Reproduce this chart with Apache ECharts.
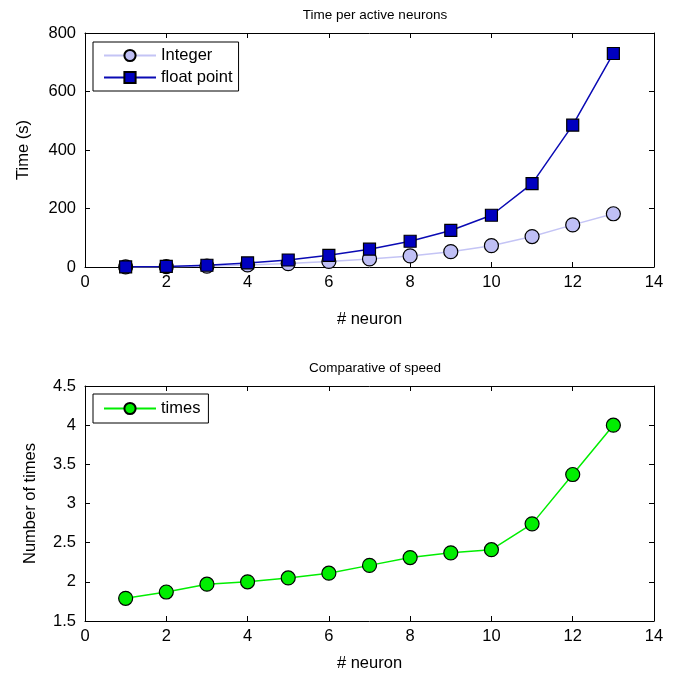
<!DOCTYPE html>
<html><head><meta charset="utf-8">
<script src="https://cdn.jsdelivr.net/npm/echarts@6/dist/echarts.min.js"></script>
<style>html,body{margin:0;padding:0;background:#fff}#c{width:676px;height:678px}</style>
</head><body><div id="c"></div>
<script>
var neurons = [1,2,3,4,5,6,7,8,9,10,11,12,13];
var integerTime = [0.3,1,3,7,11.6,19,27.5,38,52.5,73,104,144,182];
var floatTime = [0.5,2,6,14,24,40,61,88,125,177,285,485,730];
var speedTimes = [1.79,1.87,1.97,2.0,2.05,2.11,2.21,2.31,2.37,2.41,2.74,3.37,4.0];

var F = 'Liberation Sans, Arial, sans-serif';
var FS = 16.5;
function pairs(xs, ys){ return xs.map(function(x,i){return [x, ys[i]];}); }

var chart = echarts.init(document.getElementById('c'), null, {renderer:'canvas'});
function tick(){ return {show:true, inside:true, length:5, lineStyle:{color:'#000', width:1}}; }
function xA(grid, pos, labels, name, gap){
  return {type:'value', gridIndex:grid, position:pos, min:0, max:14, interval:2,
    axisLine:{show:true, onZero:false, lineStyle:{color:'#000', width:1}},
    axisTick:tick(), splitLine:{show:false},
    axisLabel:{show:labels, inside:false, color:'#000', fontFamily:F, fontSize:FS, margin:7},
    name: name||'', nameLocation:'middle', nameGap:gap||40,
    nameTextStyle:{color:'#000', fontFamily:F, fontSize:FS}};
}
function yA(grid, pos, labels, min, max, interval, name, gap){
  return {type:'value', gridIndex:grid, position:pos, min:min, max:max, interval:interval,
    axisLine:{show:true, onZero:false, lineStyle:{color:'#000', width:1}},
    axisTick:tick(), splitLine:{show:false},
    axisLabel:{show:labels, inside:false, color:'#000', fontFamily:F, fontSize:FS, margin:9},
    name: name||'', nameLocation:'middle', nameGap:gap||40,
    nameTextStyle:{color:'#000', fontFamily:F, fontSize:FS}};
}
var option = {
  animation:false,
  backgroundColor:'#fff',
  title:[
    {text:'Time per active neurons', left:370, top:3, textAlign:'center',
     textStyle:{color:'#000', fontFamily:F, fontSize:13.5, fontWeight:'normal'}},
    {text:'Comparative of speed', left:370, top:356, textAlign:'center',
     textStyle:{color:'#000', fontFamily:F, fontSize:13.5, fontWeight:'normal'}}
  ],
  grid:[
    {left:85, right:22, top:33, height:234, show:false, outerBoundsMode:'none', containLabel:false},
    {left:85, right:22, top:386, height:235, show:false, outerBoundsMode:'none', containLabel:false}
  ],
  legend:[
    {left:93, top:42, orient:'vertical', data:['Integer','float point'],
     borderColor:'#000', borderWidth:1, padding:[5,6,5,10], itemGap:5,
     itemWidth:52, itemHeight:14, backgroundColor:'#fff',
     textStyle:{color:'#000', fontFamily:F, fontSize:FS, lineHeight:16}},
    {left:93, top:394, orient:'vertical', data:['times'],
     borderColor:'#000', borderWidth:1, padding:[6,8,6,10],
     itemWidth:52, itemHeight:14, backgroundColor:'#fff',
     textStyle:{color:'#000', fontFamily:F, fontSize:FS, lineHeight:16}}
  ],
  xAxis:[
    xA(0,'bottom',true,'# neuron',44), xA(0,'top',false),
    xA(1,'bottom',true,'# neuron',34), xA(1,'top',false)
  ],
  yAxis:[
    yA(0,'left',true,0,800,200,'Time (s)',53), yA(0,'right',false,0,800,200),
    yA(1,'left',true,1.5,4.5,0.5,'Number of times',46), yA(1,'right',false,1.5,4.5,0.5)
  ],
  series:[
    {name:'Integer', type:'line', xAxisIndex:0, yAxisIndex:0, data:pairs(neurons, integerTime),
     symbol:'circle', symbolSize:14, lineStyle:{color:'#c4c4f5', width:1.5},
     itemStyle:{color:'#bfbff5', borderColor:'#000', borderWidth:1.2}},
    {name:'float point', type:'line', xAxisIndex:0, yAxisIndex:0, data:pairs(neurons, floatTime),
     symbol:'rect', symbolSize:12, lineStyle:{color:'#0a0ab4', width:1.5},
     itemStyle:{color:'#0000c0', borderColor:'#000', borderWidth:1.2}},
    {name:'times', type:'line', xAxisIndex:2, yAxisIndex:2, data:pairs(neurons, speedTimes),
     symbol:'circle', symbolSize:14, lineStyle:{color:'#00ee00', width:1.5},
     itemStyle:{color:'#00ee00', borderColor:'#000', borderWidth:1.2}}
  ]
};
chart.setOption(option);
</script></body></html>
